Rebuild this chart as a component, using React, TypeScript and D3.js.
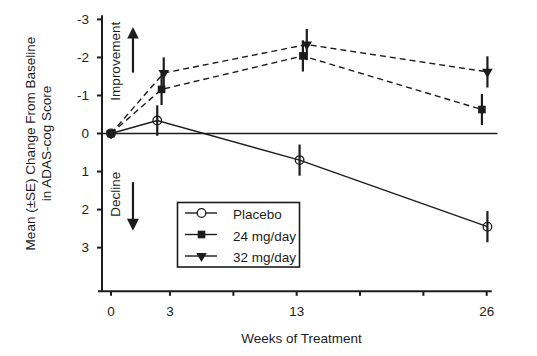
import React from "react";
import * as d3 from "d3";

// ---- data ----
const seriesNames = ["Placebo", "24 mg/day", "32 mg/day"];
const placeboWeeks = [0, 3.2, 13.05, 26.05];
const placeboMeans = [0, -0.34, 0.7, 2.45];
const placeboSE = [0, 0.4, 0.41, 0.41];
const mg24Weeks = [0, 3.5, 13.28, 25.67];
const mg24Means = [0, -1.16, -2.04, -0.63];
const mg24SE = [0, 0.41, 0.41, 0.41];
const mg32Weeks = [0, 3.65, 13.55, 26.05];
const mg32Means = [0, -1.59, -2.34, -1.62];
const mg32SE = [0, 0.41, 0.41, 0.41];

const xTickValues = [0, 4.08, 8.47, 12.85, 17.23, 21.62, 26];
const xTickLabels = ["0", "3", "", "13", "", "", "26"];
const yTickValues = [-3, -2, -1, 0, 1, 2, 3];
const yTickLabels = ["-3", "-2", "-1", "0", "1", "2", "3"];
const xAxisTitle = "Weeks of Treatment";
const yAxisTitle = ["Mean (\u00b1SE) Change From Baseline", "in ADAS-cog Score"];

const W = 537;
const H = 356;
const FONT = "'Liberation Sans', Arial, Helvetica, sans-serif";
const INK = "#1c1c1c";

const x = d3.scaleLinear().domain([0, 26]).range([111, 486.7]);
const y = d3.scaleLinear().domain([-3, 3]).range([19.4, 247.6]);
const yExtent = [-3.11, 4.15];
const axisX = 102;
const axisY = y(yExtent[1]);

type Row = { w: number; m: number; se: number };
const zip = (w: number[], m: number[], s: number[]): Row[] =>
  w.map((wk, i) => ({ w: wk, m: m[i], se: s[i] }));

const series = [
  { name: seriesNames[0], rows: zip(placeboWeeks, placeboMeans, placeboSE), dash: null, marker: "circle" },
  { name: seriesNames[2], rows: zip(mg32Weeks, mg32Means, mg32SE), dash: "6,4", marker: "triangle" },
  { name: seriesNames[1], rows: zip(mg24Weeks, mg24Means, mg24SE), dash: "6,4", marker: "square" },
];

const line = d3
  .line<Row>()
  .x((d) => x(d.w))
  .y((d) => y(d.m));

const triPath = d3.symbol().type(d3.symbolTriangle).size(48)() as string;

function Marker({ kind, cx, cy }: { kind: string; cx: number; cy: number }) {
  if (kind === "circle")
    return <circle cx={cx} cy={cy} r={4.3} fill="none" stroke={INK} strokeWidth={1.3} />;
  if (kind === "square")
    return <rect x={cx - 3.8} y={cy - 3.8} width={7.6} height={7.6} fill={INK} />;
  return <path d={triPath} transform={`translate(${cx},${cy}) rotate(180)`} fill={INK} />;
}

const legendOrder = [
  { name: seriesNames[0], marker: "circle" },
  { name: seriesNames[1], marker: "square" },
  { name: seriesNames[2], marker: "triangle" },
];

export default function App() {
  const arrowX = x(1.52);
  return (
    <svg
      width={W}
      height={H}
      style={{ position: "absolute", left: 0, top: 0, background: "#fff" }}
      fontFamily={FONT}
    >
      <rect width={W} height={H} fill="#fff" />

      {/* y axis */}
      <line x1={axisX} x2={axisX} y1={y(yExtent[0])} y2={axisY} stroke={INK} strokeWidth={2} />
      {yTickValues.map((v, i) => (
        <g key={v}>
          <line x1={axisX - 5} x2={axisX} y1={y(v)} y2={y(v)} stroke={INK} strokeWidth={2} />
          <text x={89} y={y(v)} dy="0.36em" textAnchor="end" fontSize={13.5} fill={INK}>
            {yTickLabels[i]}
          </text>
        </g>
      ))}

      {/* x axis */}
      <line x1={axisX - 4} x2={491.7} y1={axisY} y2={axisY} stroke={INK} strokeWidth={2} />
      {xTickValues.map((v, i) => (
        <g key={v}>
          <line x1={x(v)} x2={x(v)} y1={axisY} y2={axisY + 4.5} stroke={INK} strokeWidth={2} />
          {xTickLabels[i] && (
            <text x={x(v)} y={316} textAnchor="middle" fontSize={13.5} fill={INK}>
              {xTickLabels[i]}
            </text>
          )}
        </g>
      ))}
      <text x={301.5} y={343} textAnchor="middle" fontSize={13.5} fill={INK}>
        {xAxisTitle}
      </text>

      {/* y axis title */}
      <g transform={`translate(0, 143.5)`}>
        <text transform="translate(34.5,0) rotate(-90)" textAnchor="middle" fontSize={13.5} fill={INK}>
          {yAxisTitle[0]}
        </text>
        <text transform="translate(50.5,0) rotate(-90)" textAnchor="middle" fontSize={13.5} fill={INK}>
          {yAxisTitle[1]}
        </text>
      </g>

      {/* zero reference line */}
      <line x1={axisX} x2={497.5} y1={y(0)} y2={y(0)} stroke={INK} strokeWidth={1.6} />

      {/* annotations */}
      <text transform={`translate(${x(0.62)},${y(-1.9)}) rotate(-90)`} textAnchor="middle" fontSize={13.5} fill={INK}>
        Improvement
      </text>
      <text transform={`translate(${x(0.62)},${y(1.6)}) rotate(-90)`} textAnchor="middle" fontSize={13.5} fill={INK}>
        Decline
      </text>
      <line x1={arrowX} x2={arrowX} y1={y(-1.6)} y2={y(-2.55)} stroke={INK} strokeWidth={2.2} />
      <path
        d={`M${arrowX},${y(-2.8)} L${arrowX - 5.8},${y(-2.5)} L${arrowX + 5.8},${y(-2.5)} Z`}
        fill={INK}
      />
      <line x1={arrowX} x2={arrowX} y1={y(1.28)} y2={y(2.3)} stroke={INK} strokeWidth={2.2} />
      <path
        d={`M${arrowX},${y(2.56)} L${arrowX - 6},${y(2.24)} L${arrowX + 6},${y(2.24)} Z`}
        fill={INK}
      />

      {/* series */}
      {series.map((s) => (
        <g key={s.name}>
          <path
            d={line(s.rows) as string}
            fill="none"
            stroke={INK}
            strokeWidth={1.4}
            strokeDasharray={s.dash ?? undefined}
          />
          {s.rows
            .filter((r) => r.se > 0)
            .map((r, i) => (
              <line
                key={i}
                x1={x(r.w)}
                x2={x(r.w)}
                y1={y(r.m - r.se)}
                y2={y(r.m + r.se)}
                stroke={INK}
                strokeWidth={2.2}
              />
            ))}
          {s.rows.map((r, i) => (
            <Marker key={i} kind={s.marker} cx={x(r.w)} cy={y(r.m)} />
          ))}
        </g>
      ))}

      {/* legend */}
      <g>
        <rect x={177.5} y={202.5} width={122} height={64.5} fill="#fff" stroke={INK} strokeWidth={1.6} />
        {legendOrder.map((l, i) => {
          const ry = 213 + i * 21.5;
          return (
            <g key={l.name}>
              <line x1={185} x2={217} y1={ry} y2={ry} stroke={INK} strokeWidth={1.4} />
              {l.marker === "circle" ? (
                <circle cx={201.5} cy={ry} r={4.3} fill="#fff" stroke={INK} strokeWidth={1.3} />
              ) : (
                <Marker kind={l.marker} cx={201.5} cy={ry} />
              )}
              <text x={233} y={ry + 6} fontSize={13.5} fill={INK}>
                {l.name}
              </text>
            </g>
          );
        })}
      </g>
    </svg>
  );
}
